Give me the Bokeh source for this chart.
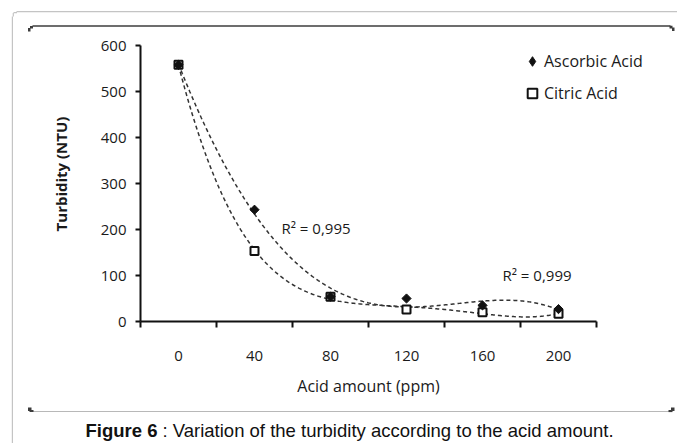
import numpy as np
from bokeh.plotting import figure
from bokeh.models import (FixedTicker, Label, Legend, LegendItem, BoxAnnotation,
                          Range1d)
from bokeh.embed import file_html
from bokeh.resources import INLINE

# ---------------- data ----------------
acid_ppm = [0, 40, 80, 120, 160, 200]
ascorbic_ntu = [558, 243, 54, 50, 35, 27]
citric_ntu = [558, 153, 54, 26, 20, 17]
x_tick_labels = ["0", "40", "80", "120", "160", "200"]
x_cat_bounds = [-20, 20, 60, 100, 140, 180, 220]
y_ticks = [0, 100, 200, 300, 400, 500, 600]
series_names = ["Ascorbic Acid", "Citric Acid"]
x_title = "Acid amount (ppm)"
y_title = "Turbidity (NTU)"
r2_texts = ["R\u00b2 = 0,995", "R\u00b2 = 0,999"]
caption_bold = "Figure 6"
caption_rest = ": Variation of the turbidity according to the acid amount."

# --------------- layout helpers (canvas px -> data) ---------------
W, H = 677, 443
FL, FR, FT, FB = 140, 596, 45, 321          # where the plot area sits
X0, X1, Y0, Y1 = -20, 220, 0, 600


def dx(px):
    return X0 + (px - FL) * (X1 - X0) / (FR - FL)


def dy(py):
    return Y0 + (FB - py) * (Y1 - Y0) / (FB - FT)


p = figure(width=W, height=H, output_backend="svg", toolbar_location=None,
           title=None,
           x_range=Range1d(dx(0), dx(W)), y_range=Range1d(dy(H), dy(0)),
           min_border=0)
p.outline_line_color = None
p.grid.visible = False
p.background_fill_color = "white"
p.border_fill_color = "white"

FONT = "Open Sans"
TXT = "#1a1a1a"

# x axis: labels at category centres, tick marks at category boundaries
xa = p.xaxis[0]
xa.fixed_location = Y0
xa.bounds = (X0, X1)
xa.ticker = FixedTicker(ticks=acid_ppm, minor_ticks=x_cat_bounds)
xa.major_label_overrides = {v: s for v, s in zip(acid_ppm, x_tick_labels)}
xa.major_tick_in = 0
xa.major_tick_out = 0
xa.minor_tick_in = 0
xa.minor_tick_out = 6
xa.minor_tick_line_width = 2
xa.minor_tick_line_color = "#111"
xa.axis_line_width = 2
xa.axis_line_color = "#111"
xa.major_label_standoff = 23
xa.major_label_text_font = FONT
xa.major_label_text_font_size = "15px"
xa.major_label_text_color = TXT
xa.axis_label = x_title
xa.axis_label_text_font = FONT
xa.axis_label_text_font_size = "16px"
xa.axis_label_text_font_style = "normal"
xa.axis_label_text_color = TXT
xa.axis_label_standoff = 11

ya = p.yaxis[0]
ya.fixed_location = X0
ya.bounds = (Y0, Y1)
ya.ticker = FixedTicker(ticks=y_ticks, minor_ticks=[])
ya.major_tick_in = 0
ya.major_tick_out = 5
ya.major_tick_line_width = 2
ya.major_tick_line_color = "#111"
ya.axis_line_width = 2
ya.axis_line_color = "#111"
ya.major_label_standoff = 9
ya.major_label_text_font = FONT
ya.major_label_text_font_size = "15px"
ya.major_label_text_color = TXT

# y title as a rotated label so it can sit where the reference has it
p.add_layout(Label(x=dx(60), y=dy(173.5), text=y_title, angle=np.pi / 2,
                   text_font=FONT, text_font_size="15px",
                   text_font_style="bold", text_color=TXT,
                   text_align="center", text_baseline="middle"))


# --------------- frames (thin filled boxes, canvas px) ---------------
def rule(l, r, t, b, color):
    p.add_layout(BoxAnnotation(left=dx(l), right=dx(r), top=dy(t), bottom=dy(b),
                               fill_color=color, fill_alpha=1, line_color=None,
                               level="underlay"))


OUTER = "#c4c4c4"
rule(16, W, 10.5, 11.7, OUTER)          # outer frame top
rule(11.3, 12.5, 16, H, OUTER)          # outer frame left
rule(13, 16.5, 11.5, 12.7, OUTER)       # outer frame corner
rule(12.2, 13.4, 12.5, 16, OUTER)

INNER = "#3c3c3c"
rule(32, 670, 24.8, 26.2, INNER)        # inner box top
rule(29.5, 32.5, 25.5, 28, INNER)       # inner top-left corner
rule(27.5, 30, 27.5, 31, INNER)
rule(669, 672, 25.3, 28, INNER)         # inner top-right corner
rule(671.5, 674, 27, 30.5, INNER)
rule(32, 670, 410.6, 411.6, "#b8b8b8")  # inner box bottom
rule(27.5, 31, 407, 410.5, INNER)       # inner bottom corners
rule(29, 33, 409.5, 411.6, INNER)
rule(670.5, 674, 407, 410.5, INNER)
rule(668, 672, 409.5, 411.6, INNER)

# --------------- trend lines (polynomial fits of the data) ---------------
xs_fit = np.linspace(min(acid_ppm), max(acid_ppm), 300)
for ys in (ascorbic_ntu, citric_ntu):
    coef = np.polyfit(acid_ppm, ys, 4)
    p.line(xs_fit, np.polyval(coef, xs_fit), line_color="#333",
           line_width=1.5, line_dash="4 3")

# --------------- points ---------------
r_cit = p.scatter(acid_ppm, citric_ntu, marker="square", size=8,
                  fill_color="white", line_color="#111", line_width=2)
r_asc = p.scatter(acid_ppm, ascorbic_ntu, marker="square", angle=np.pi / 4,
                  size=6.5, fill_color="#111", line_color="#111")
# legend key for the diamonds (the legend ignores marker rotation)
k_asc = p.scatter(acid_ppm, ascorbic_ntu, marker="diamond", fill_color="#111",
                  line_color="#111", visible=False)

legend = Legend(items=[LegendItem(label=series_names[0], renderers=[k_asc]),
                       LegendItem(label=series_names[1], renderers=[r_cit])],
                location=(520, H - 105), orientation="vertical",
                glyph_width=24, glyph_height=24, label_height=20,
                label_standoff=0, spacing=8, padding=0, margin=0,
                border_line_color=None, background_fill_alpha=0,
                inactive_fill_alpha=0,
                label_text_font=FONT, label_text_font_size="16px",
                label_text_color=TXT)
p.add_layout(legend)

# --------------- R² labels ---------------
for (px, py), t in zip([(281, 227), (502, 274)], r2_texts):
    p.add_layout(Label(x=dx(px), y=dy(py), text=t, text_font=FONT,
                       text_font_size="15px", text_color=TXT,
                       text_baseline="middle", text_align="left"))

# --------------- caption ---------------
CAP_X, CAP_Y = 157, 430
p.add_layout(Label(x=dx(CAP_X), y=dy(CAP_Y), text=caption_bold,
                   text_font="Liberation Sans", text_font_size="18.5px",
                   text_font_style="bold", text_color="#111",
                   text_align="right", text_baseline="middle"))
p.add_layout(Label(x=dx(CAP_X + 5), y=dy(CAP_Y), text=caption_rest,
                   text_font="Liberation Sans", text_font_size="18.5px",
                   text_color="#111", text_align="left",
                   text_baseline="middle"))

open("out.html", "w").write(file_html(p, INLINE))
